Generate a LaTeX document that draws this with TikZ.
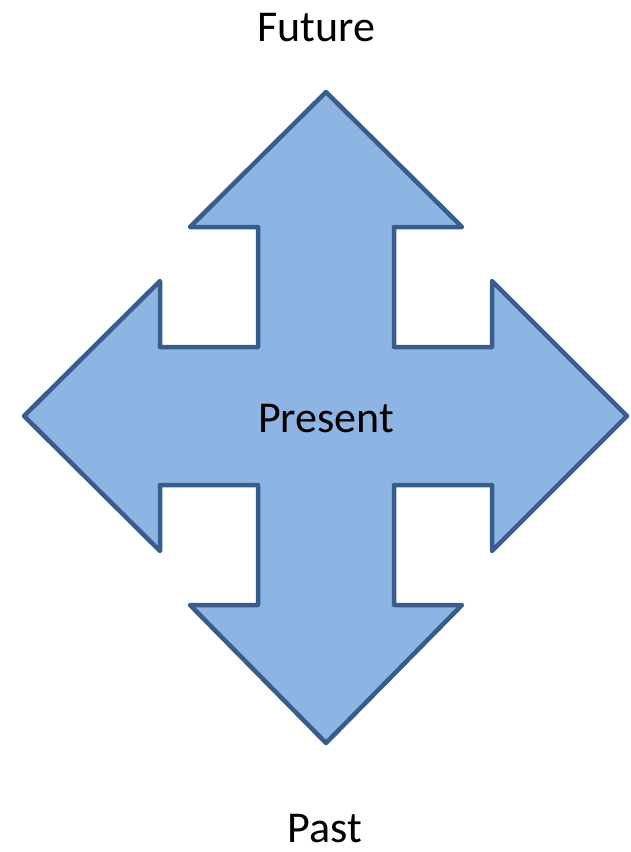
\documentclass[tikz,border=0pt]{standalone}
\usepackage{fontspec}
\setmainfont{Carlito}
\definecolor{arrowfill}{HTML}{8EB4E3}
\definecolor{arrowline}{HTML}{385D8A}
\begin{document}
\begin{tikzpicture}[x=1pt,y=-1pt,
  lbl/.style={font=\fontsize{44}{48}\selectfont, inner sep=0pt, anchor=base},
  quad/.style={fill=arrowfill, draw=arrowline, line width=4.5pt, line join=round}]
\useasboundingbox (0,0) rectangle (630,852);
\draw[quad] (326,92) -- (462,227) -- (394,227) -- (394,347) -- (492,347) -- (492,281)
  -- (627,416) -- (492,551) -- (492,485) -- (394,485) -- (394,605) -- (462,605)
  -- (326,743) -- (190,605) -- (258,605) -- (258,485) -- (160,485) -- (160,551)
  -- (24,416) -- (160,281) -- (160,347) -- (258,347) -- (258,227) -- (190,227) -- cycle;
\node[lbl] (future) at (316,41) {Future};
\node[lbl] (present) at (326,432) {Present};
\node[lbl] (past) at (325,842) {Past};
\end{tikzpicture}
\end{document}
